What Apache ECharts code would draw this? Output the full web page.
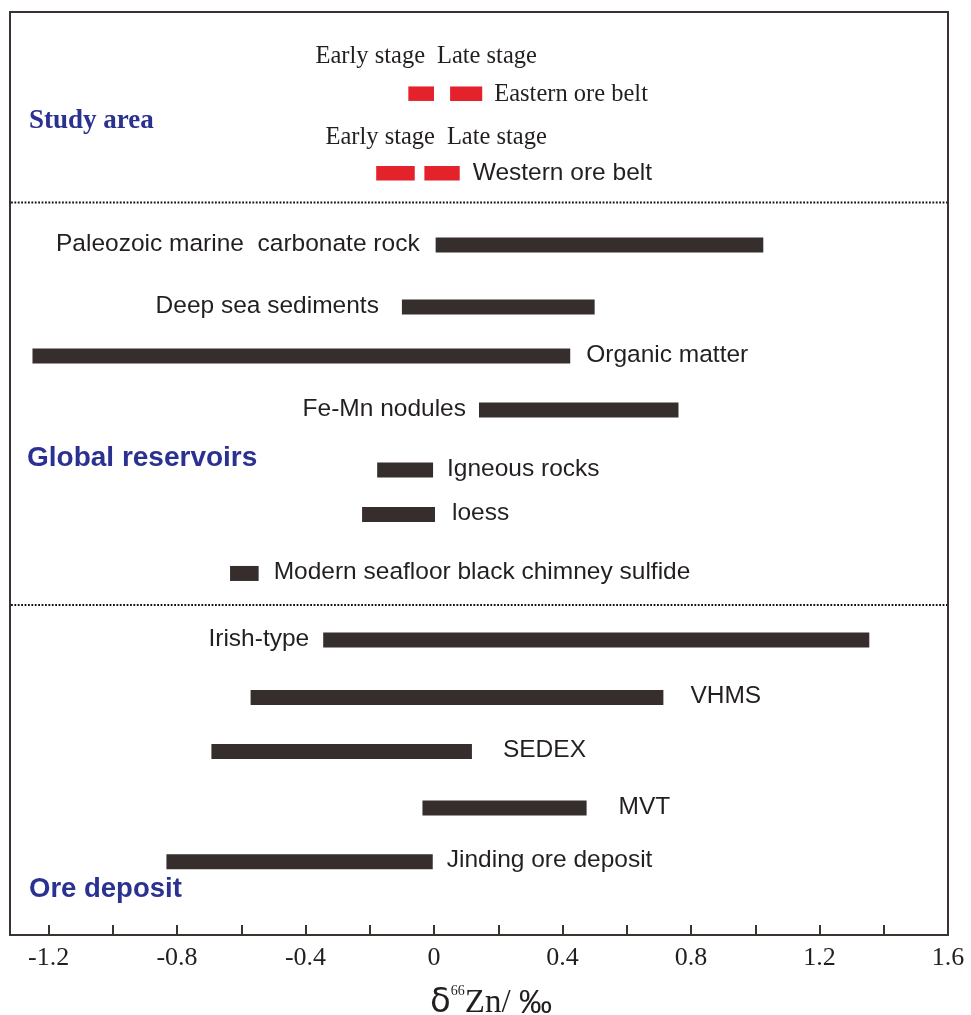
<!DOCTYPE html>
<html><head><meta charset="utf-8">
<script src="https://cdn.jsdelivr.net/npm/echarts@6/dist/echarts.min.js"></script>
<style>html,body{margin:0;padding:0;background:#fff}#c{width:971px;height:1015px}</style>
</head><body><div id="c"></div>
<script>
// ---------- data ----------
const xTicks = [-1.2, -1.0, -0.8, -0.6, -0.4, -0.2, 0, 0.2, 0.4, 0.6, 0.8, 1.0, 1.2, 1.4, 1.6];
const xTickLabels = [-1.2, -0.8, -0.4, 0, 0.4, 0.8, 1.2, 1.6];

// Study area (early / late stage ranges)
const studyNames = ['Eastern ore belt', 'Western ore belt'];
const earlyMin = [-0.08, -0.18];
const earlyMax = [0.00, -0.06];
const lateMin = [0.05, -0.03];
const lateMax = [0.15, 0.08];
const studyRow = [8.85, 17.47];

const stageLabels = ['Early stage', 'Late stage', 'Early stage', 'Late stage'];
const stageLabelX = [-0.028, 0.009, 0.003, 0.040];
const stageLabelRow = [4.8, 4.8, 13.55, 13.55];

// Global reservoirs + ore deposits
const rangeNames = ['Paleozoic marine  carbonate rock', 'Deep sea sediments', 'Organic matter', 'Fe-Mn nodules',
  'Igneous rocks', 'loess', 'Modern seafloor black chimney sulfide',
  'Irish-type', 'VHMS', 'SEDEX', 'MVT', 'Jinding ore deposit'];
const rangeMin = [0.005, -0.10, -1.25, 0.14, -0.177, -0.224, -0.635, -0.345, -0.571, -0.693, -0.036, -0.833];
const rangeMax = [1.025, 0.50, 0.424, 0.761, -0.003, 0.003, -0.546, 1.355, 0.714, 0.118, 0.475, -0.004];
const rangeRow = [25.24, 31.96, 37.27, 43.12, 49.62, 54.44, 60.83, 68.04, 74.27, 80.12, 86.24, 92.06];

const sectionTitles = ['Study area', 'Global reservoirs', 'Ore deposit'];
const dividerRows = [20.64, 64.25];

// ---------- layout / style ----------
const X_MIN = -1.32, X_MAX = 1.6;
const labelSide = ['left', 'left', 'right', 'left', 'right', 'right', 'right', 'left', 'right', 'right', 'right', 'right'];
const labelGap = [16, 23, 16, 13, 14, 17, 15, 14, 27, 31, 32, 14];
const studyLabelGap = [12, 13];
const studyLabelFont = ['24.5px "Liberation Serif"', '24.5px "Liberation Sans"'];
const titleFonts = ['bold 27px "Liberation Serif"', 'bold 28px "Liberation Sans"', 'bold 27.5px "Liberation Sans"'];
const titlePos = [[29, 121], [27, 458], [29, 889]];

const BAR = '#352e2c', RED = '#e4222b', BLUE = '#2b3190', TXT = '#231f20', AXIS = '#3a3330';
const SANS = '24.5px "Liberation Sans"';
const SERIF = '24.5px "Liberation Serif"';

function txt(x, y, text, font, align, color) {
  return {
    type: 'text', x: x, y: y,
    style: { text: text, font: font, fill: color || TXT, align: align, textAlign: align,
      verticalAlign: 'middle', textVerticalAlign: 'middle' }
  };
}

const chart = echarts.init(document.getElementById('c'), null, { renderer: 'canvas' });

chart.setOption({
  animation: false,
  backgroundColor: '#fff',
  grid: { left: 10, right: 23, top: 12, bottom: 80, show: true, borderColor: AXIS, borderWidth: 2,
    backgroundColor: 'transparent', containLabel: false, outerBoundsMode: 'none' },
  xAxis: {
    type: 'value', min: X_MIN, max: X_MAX,
    axisLine: { show: true, onZero: false, lineStyle: { color: AXIS, width: 2 } },
    axisTick: { show: true, inside: true, length: 10, customValues: xTicks, lineStyle: { color: AXIS, width: 2 } },
    axisLabel: { show: true, customValues: xTickLabels, showMaxLabel: true, showMinLabel: true,
      fontFamily: 'Liberation Serif', fontSize: 26, color: TXT, margin: 10,
      formatter: v => String(Math.round(v * 10) / 10) },
    splitLine: { show: false },
    name: '{d|δ}{s|66}{z|Zn/ }{p|‰}',
    nameLocation: 'middle', nameGap: 49,
    nameTextStyle: {
      padding: [0, 0, 0, 24],
      rich: {
        d: { fontFamily: 'DejaVu Sans', fontSize: 34, color: TXT, verticalAlign: 'bottom', lineHeight: 36 },
        s: { fontFamily: 'Liberation Serif', fontSize: 14, color: TXT, verticalAlign: 'top', lineHeight: 36 },
        z: { fontFamily: 'Liberation Serif', fontSize: 33, color: TXT, verticalAlign: 'bottom', lineHeight: 36 },
        p: { fontFamily: 'Liberation Sans', fontSize: 33, color: TXT, verticalAlign: 'bottom', lineHeight: 36 }
      }
    }
  },
  yAxis: { type: 'value', min: 0, max: 100, inverse: true, show: false },
  graphic: sectionTitles.map((t, i) => ({
    type: 'text', x: titlePos[i][0], y: titlePos[i][1],
    style: { text: t, font: titleFonts[i], fill: BLUE, textVerticalAlign: 'middle', verticalAlign: 'middle' }
  })),
  series: [
    {
      type: 'custom', name: 'dividers',
      data: dividerRows.map(r => [X_MIN, X_MAX, r]),
      encode: { x: [0, 1], y: 2 },
      renderItem: (params, api) => {
        const a = api.coord([api.value(0), api.value(2)]);
        const b = api.coord([api.value(1), api.value(2)]);
        return { type: 'line', shape: { x1: a[0] + 1, y1: a[1], x2: b[0] - 1, y2: b[1] },
          style: { stroke: '#111', lineWidth: 2, lineDash: [1.8, 1.6] } };
      }
    },
    {
      type: 'custom', name: 'stage labels',
      data: stageLabels.map((t, i) => [stageLabelX[i], stageLabelRow[i]]),
      encode: { x: 0, y: 1 },
      renderItem: (params, api) => {
        const i = params.dataIndex;
        const p = api.coord([api.value(0), api.value(1)]);
        return txt(p[0], p[1], stageLabels[i], SERIF, i % 2 === 0 ? 'right' : 'left');
      }
    },
    {
      type: 'custom', name: 'study area',
      data: studyNames.map((n, i) => [earlyMin[i], earlyMax[i], lateMin[i], lateMax[i], studyRow[i]]),
      encode: { x: [0, 1, 2, 3], y: 4 },
      renderItem: (params, api) => {
        const i = params.dataIndex;
        const row = api.value(4);
        const e0 = api.coord([api.value(0), row]), e1 = api.coord([api.value(1), row]);
        const l0 = api.coord([api.value(2), row]), l1 = api.coord([api.value(3), row]);
        const h = 14.5;
        return { type: 'group', children: [
          { type: 'rect', shape: { x: e0[0], y: e0[1] - h / 2, width: e1[0] - e0[0], height: h }, style: { fill: RED } },
          { type: 'rect', shape: { x: l0[0], y: l0[1] - h / 2, width: l1[0] - l0[0], height: h }, style: { fill: RED } },
          txt(l1[0] + studyLabelGap[i], l1[1] + 0.5, studyNames[i], studyLabelFont[i], 'left')
        ] };
      }
    },
    {
      type: 'custom', name: 'ranges',
      data: rangeNames.map((n, i) => [rangeMin[i], rangeMax[i], rangeRow[i]]),
      encode: { x: [0, 1], y: 2 },
      renderItem: (params, api) => {
        const i = params.dataIndex;
        const s = api.coord([api.value(0), api.value(2)]);
        const e = api.coord([api.value(1), api.value(2)]);
        const h = 15;
        const left = labelSide[i] === 'left';
        return { type: 'group', children: [
          { type: 'rect', shape: { x: s[0], y: s[1] - h / 2, width: e[0] - s[0], height: h }, style: { fill: BAR } },
          txt(left ? s[0] - labelGap[i] : e[0] + labelGap[i], s[1] - 1, rangeNames[i], SANS, left ? 'right' : 'left')
        ] };
      }
    }
  ]
});
</script>
</body></html>
